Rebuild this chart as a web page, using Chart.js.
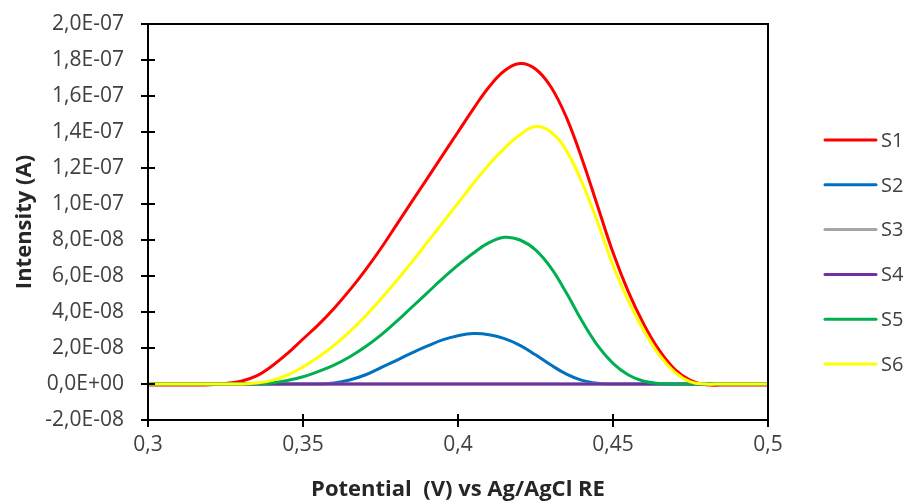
<!DOCTYPE html>
<html>
<head>
<meta charset="utf-8">
<script src="https://cdn.jsdelivr.net/npm/chart.js@4.4.1/dist/chart.umd.min.js"></script>
<style>
  body { margin: 0; background: #fff; }
</style>
</head>
<body>
<canvas id="voltChart" width="910" height="504"></canvas>
<script>
// data (potential in V, current in A)
const potential = [
  0.300, 0.305, 0.310, 0.315, 0.320, 0.325, 0.330, 0.335, 0.340, 0.345,
  0.350, 0.355, 0.360, 0.365, 0.370, 0.375, 0.380, 0.385, 0.390, 0.395,
  0.400, 0.405, 0.410, 0.415, 0.420, 0.425, 0.430, 0.435, 0.440, 0.445,
  0.450, 0.455, 0.460, 0.465, 0.470, 0.475, 0.480, 0.485, 0.490, 0.495, 0.500
];
const s1 = [
  -0.06e-8, -0.06e-8, -0.06e-8, -0.06e-8, -0.04e-8, 0.03e-8, 0.15e-8, 0.45e-8, 1.0e-8, 1.7e-8,
  2.5e-8, 3.3e-8, 4.2e-8, 5.2e-8, 6.3e-8, 7.5e-8, 8.8e-8, 10.1e-8, 11.4e-8, 12.7e-8,
  14.0e-8, 15.3e-8, 16.5e-8, 17.4e-8, 17.8e-8, 17.5e-8, 16.5e-8, 14.8e-8, 12.5e-8, 9.9e-8,
  7.3e-8, 5.1e-8, 3.3e-8, 1.85e-8, 0.8e-8, 0.2e-8, -0.04e-8, -0.06e-8, -0.06e-8, -0.06e-8, -0.06e-8
];
const s2 = [
  0, 0, 0, 0, 0, 0, 0, 0, 0, 0,
  0, 0, 0.05e-8, 0.22e-8, 0.5e-8, 0.9e-8, 1.3e-8, 1.72e-8, 2.1e-8, 2.45e-8,
  2.68e-8, 2.8e-8, 2.74e-8, 2.52e-8, 2.15e-8, 1.62e-8, 1.05e-8, 0.55e-8, 0.2e-8, 0.04e-8,
  0, 0, 0, 0, 0, 0, 0, 0, 0, 0, 0
];
const s3 = [
  0, 0, 0, 0, 0, 0, 0, 0, 0, 0, 0, 0, 0, 0, 0, 0, 0, 0, 0, 0, 0,
  0, 0, 0, 0, 0, 0, 0, 0, 0, 0, 0, 0, 0, 0, 0, 0, 0, 0, 0, 0
];
const s4 = [
  0, 0, 0, 0, 0, 0, 0, 0, 0, 0, 0, 0, 0, 0, 0, 0, 0, 0, 0, 0, 0,
  0, 0, 0, 0, 0, 0, 0, 0, 0, 0, 0, 0, 0, 0, 0, 0, 0, 0, 0, 0
];
const s5 = [
  0, 0, 0, 0, 0, 0, 0, 0.01e-8, 0.06e-8, 0.2e-8,
  0.4e-8, 0.7e-8, 1.05e-8, 1.5e-8, 2.05e-8, 2.7e-8, 3.45e-8, 4.25e-8, 5.05e-8, 5.85e-8,
  6.6e-8, 7.28e-8, 7.85e-8, 8.15e-8, 8.0e-8, 7.45e-8, 6.45e-8, 5.05e-8, 3.5e-8, 2.15e-8,
  1.15e-8, 0.5e-8, 0.15e-8, 0.03e-8, 0, 0, 0, 0, 0, 0, 0
];
const s6 = [
  0, 0, 0, 0, 0, 0, 0, 0.05e-8, 0.2e-8, 0.5e-8,
  0.95e-8, 1.5e-8, 2.15e-8, 2.9e-8, 3.75e-8, 4.7e-8, 5.7e-8, 6.75e-8, 7.85e-8, 8.95e-8,
  10.05e-8, 11.15e-8, 12.2e-8, 13.1e-8, 13.85e-8, 14.3e-8, 14.0e-8, 12.95e-8, 11.2e-8, 9.0e-8,
  6.6e-8, 4.6e-8, 2.95e-8, 1.6e-8, 0.65e-8, 0.12e-8, 0, 0, 0, 0, 0
];

const seriesNames = ['S1', 'S2', 'S3', 'S4', 'S5', 'S6'];
const seriesValues = [s1, s2, s3, s4, s5, s6];
const seriesColors = ['#FF0000', '#0070C0', '#A5A5A5', '#7030A0', '#00B050', '#FFFF00'];

const FONT = "'Open Sans', 'Noto Sans', sans-serif";
const TEXT = '#404040';

function sci(v) {
  if (Math.abs(v) < 1e-15) v = 0;
  const parts = v.toExponential(1).split('e');
  const ex = parseInt(parts[1], 10);
  return parts[0].replace('.', ',') + 'E' + (ex < 0 ? '-' : '+') + String(Math.abs(ex)).padStart(2, '0');
}

// box round the plot, ticks crossing the axes, legend on the right
const frame = {
  id: 'frame',
  afterDraw(chart) {
    const ctx = chart.ctx;
    const a = chart.chartArea;
    const xs = chart.scales.x, ys = chart.scales.y;
    ctx.save();
    ctx.strokeStyle = '#000';
    ctx.lineWidth = 2;
    ctx.strokeRect(a.left, a.top, a.right - a.left, a.bottom - a.top);
    ctx.beginPath();
    ys.ticks.forEach(t => {
      const y = Math.round(ys.getPixelForValue(t.value));
      ctx.moveTo(a.left - 7, y);
      ctx.lineTo(a.left + 7, y);
    });
    xs.ticks.forEach(t => {
      const x = Math.round(xs.getPixelForValue(t.value));
      ctx.moveTo(x, a.bottom - 6);
      ctx.lineTo(x, a.bottom + 7);
    });
    ctx.stroke();

    const gap = 44.8;
    const y0 = chart.height / 2 - gap * (seriesNames.length - 1) / 2;
    ctx.font = '20px ' + FONT;
    ctx.textBaseline = 'middle';
    ctx.textAlign = 'left';
    chart.data.datasets.forEach((ds, i) => {
      const y = y0 + i * gap;
      ctx.strokeStyle = ds.borderColor;
      ctx.lineWidth = 3;
      ctx.lineCap = 'round';
      ctx.beginPath();
      ctx.moveTo(825, y);
      ctx.lineTo(876, y);
      ctx.stroke();
      ctx.fillStyle = TEXT;
      ctx.fillText(ds.label, 881, y + 1);
    });
    ctx.restore();
  }
};

const ctxVolt = document.getElementById('voltChart').getContext('2d');
const voltChart = new Chart(ctxVolt, {
  type: 'line',
  data: {
    datasets: seriesNames.map((name, i) => ({
      label: name,
      data: potential.map((p, k) => ({ x: p, y: seriesValues[i][k] })),
      borderColor: seriesColors[i],
      backgroundColor: seriesColors[i],
      borderWidth: 3,
      pointRadius: 0,
      tension: 0.4,
      order: seriesNames.length - i
    }))
  },
  options: {
    responsive: false,
    animation: false,
    layout: { padding: { left: 0, right: 142, top: 24, bottom: 0 } },
    plugins: {
      legend: { display: false },
      tooltip: { enabled: false }
    },
    scales: {
      x: {
        type: 'linear',
        min: 0.3,
        max: 0.5,
        grid: { display: false, drawTicks: false },
        border: { display: false },
        ticks: {
          stepSize: 0.05,
          padding: 12,
          color: TEXT,
          font: { family: FONT, size: 21 },
          callback: v => String(Number(v.toFixed(2))).replace('.', ',')
        },
        title: {
          display: true,
          text: 'Potential  (V) vs Ag/AgCl RE',
          color: '#262626',
          font: { family: FONT, size: 22, weight: 'bold' },
          padding: { top: 0, bottom: 1 }
        },
        afterFit: s => {
          s.height = 84;
          s.paddingLeft = 0;
          s.paddingRight = 0;
        }
      },
      y: {
        min: -2e-8,
        max: 2e-7,
        grid: { display: false, drawTicks: false },
        border: { display: false },
        ticks: {
          stepSize: 2e-8,
          padding: 24,
          color: TEXT,
          font: { family: FONT, size: 21 },
          callback: v => sci(v)
        },
        title: {
          display: true,
          text: 'Intensity (A)',
          color: '#262626',
          font: { family: FONT, size: 22, weight: 'bold' },
          padding: { top: 12, bottom: 0 }
        },
        afterFit: s => {
          s.width = 148;
          s.paddingTop = 0;
          s.paddingBottom = 0;
        }
      }
    }
  },
  plugins: [frame]
});
</script>
</body>
</html>
